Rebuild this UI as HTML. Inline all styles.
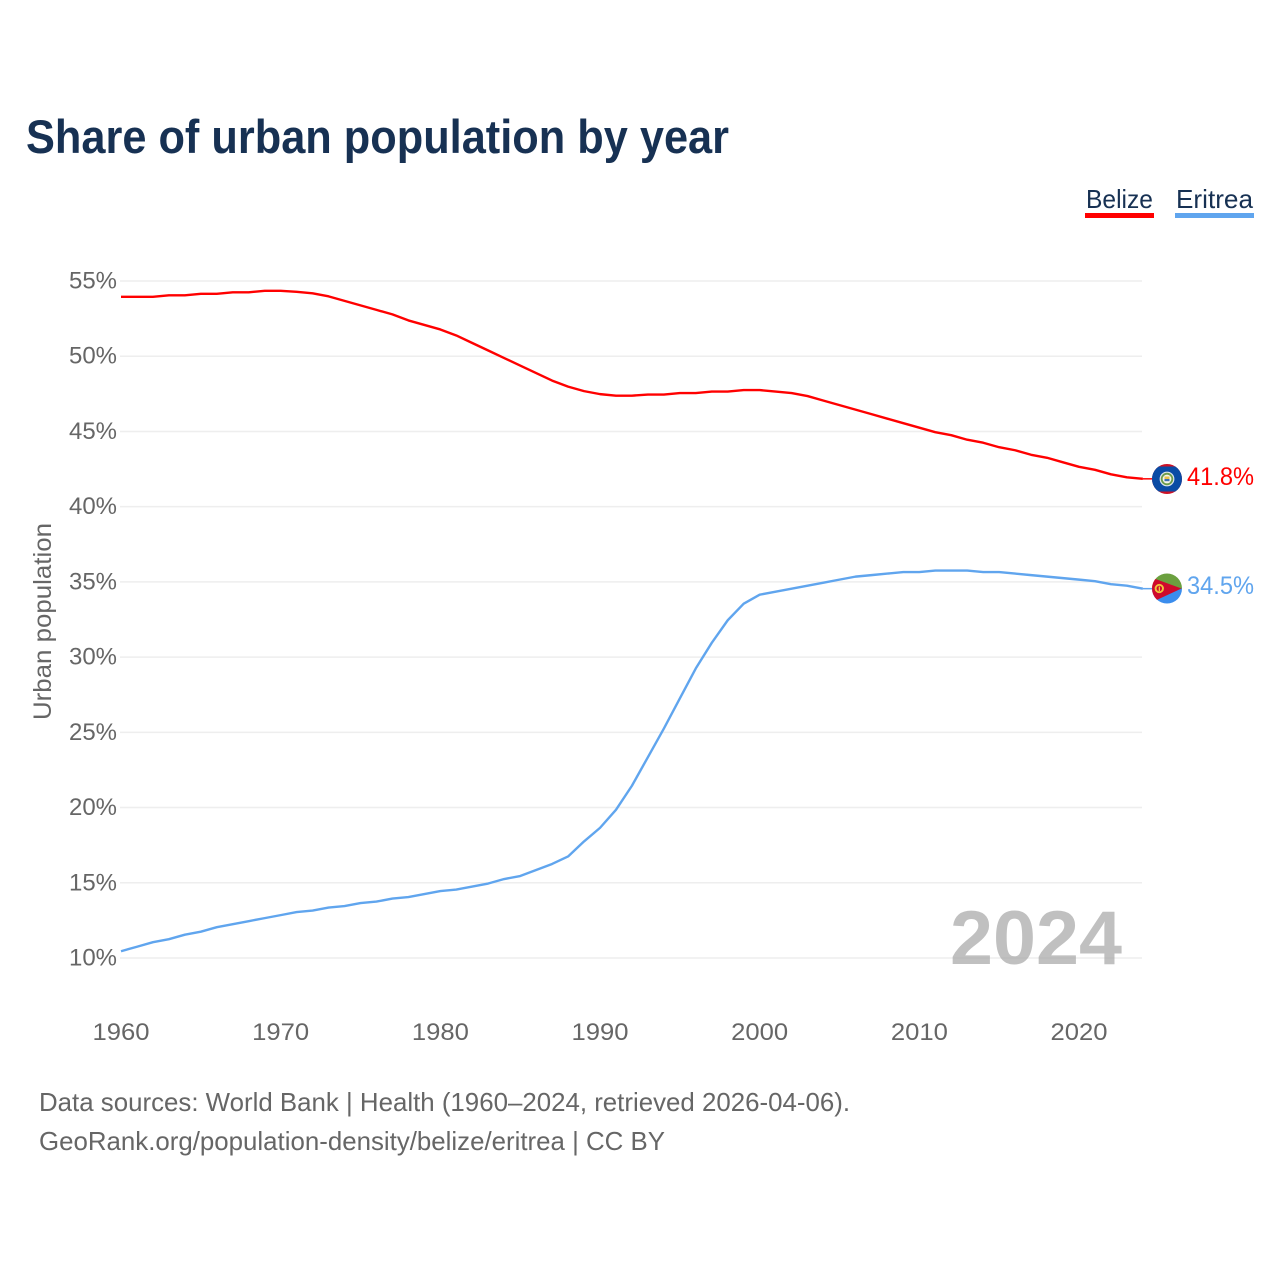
<!DOCTYPE html>
<html lang="en">
<head>
<meta charset="utf-8">
<title>Share of urban population by year</title>
<style>
html,body{margin:0;padding:0;background:#fff;}
svg{display:block;font-family:"Liberation Sans",sans-serif;}
</style>
</head>
<body>
<svg id="chart" xmlns="http://www.w3.org/2000/svg" width="1280" height="1280" viewBox="0 0 1280 1280">
  <rect x="0" y="0" width="1280" height="1280" fill="#ffffff"/>
  <text x="26" y="153" font-size="47" font-weight="700" fill="#173153" textLength="703" lengthAdjust="spacingAndGlyphs">Share of urban population by year</text>

  <g>
    <g>
      <text x="1086" y="208" font-size="26" fill="#173153" textLength="67" lengthAdjust="spacingAndGlyphs">Belize</text>
      <rect x="1085" y="213" width="69" height="5" fill="#ff0000"/>
    </g>
    <g>
      <text x="1176" y="208" font-size="26" fill="#173153" textLength="77" lengthAdjust="spacingAndGlyphs">Eritrea</text>
      <rect x="1175" y="213" width="79" height="5" fill="#60a5ee"/>
    </g>
  </g>

  <g id="grid"></g>
  <g id="yticks"></g>
  <g id="xticks"></g>
  <text transform="translate(51,720) rotate(-90)" x="0" y="0" font-size="25" fill="#666666" textLength="197" lengthAdjust="spacingAndGlyphs">Urban population</text>

  <g id="series"></g>

  <text x="950" y="964" font-size="76" font-weight="700" fill="#999999" fill-opacity="0.62" textLength="172" lengthAdjust="spacingAndGlyphs">2024</text>

  <defs>
    <clipPath id="clip-belize"><circle cx="1167" cy="479" r="15"/></clipPath>
    <clipPath id="clip-eritrea"><circle cx="1167" cy="588.5" r="15"/></clipPath>
  </defs>

  <g clip-path="url(#clip-belize)">
    <rect x="1150" y="462" width="34" height="34" fill="#ce1126"/>
    <rect x="1150" y="466.5" width="34" height="25" fill="#0a4ba5"/>
    <circle cx="1167" cy="479" r="7.4" fill="#dfe6ea"/>
    <circle cx="1167" cy="479" r="6.2" fill="#6b9b4a"/>
    <circle cx="1167" cy="479" r="4.4" fill="#f4f4ea"/>
    <rect x="1164.5" y="476.5" width="5" height="2.5" fill="#e8c04a"/>
    <rect x="1164.5" y="479" width="5" height="2.2" fill="#3a6fb0"/>
  </g>

  <g clip-path="url(#clip-eritrea)">
    <rect x="1150" y="570" width="34" height="19" fill="#6ba03f"/>
    <rect x="1150" y="588.5" width="34" height="19" fill="#3b8ded"/>
    <polygon points="1150,577 1181.5,588.5 1150,603" fill="#cf0a2c"/>
    <circle cx="1159.3" cy="588.5" r="3.7" fill="none" stroke="#f0c33c" stroke-width="1.9"/>
    <rect x="1158.7" y="586.5" width="1.3" height="4.5" fill="#f0c33c"/>
  </g>

  <text id="label-belize" x="1187" y="485" font-size="25" fill="#ff0000" textLength="67" lengthAdjust="spacingAndGlyphs">41.8%</text>
  <text id="label-eritrea" x="1187" y="594" font-size="25" fill="#60a5ee" textLength="67" lengthAdjust="spacingAndGlyphs">34.5%</text>

  <text x="39" y="1111" font-size="26" fill="#666666" textLength="811" lengthAdjust="spacingAndGlyphs">Data sources: World Bank | Health (1960–2024, retrieved 2026-04-06).</text>
  <text x="39" y="1150" font-size="26" fill="#666666" textLength="626" lengthAdjust="spacingAndGlyphs">GeoRank.org/population-density/belize/eritrea | CC BY</text>
</svg>
<script>
const startYear = 1960;
const yTickValues = [10, 15, 20, 25, 30, 35, 40, 45, 50, 55];
const yTickLabels = ["10%", "15%", "20%", "25%", "30%", "35%", "40%", "45%", "50%", "55%"];
const xTickValues = [1960, 1970, 1980, 1990, 2000, 2010, 2020];
const xTickLabels = ["1960", "1970", "1980", "1990", "2000", "2010", "2020"];
const belizeValues = [53.95,53.95,53.95,54.05,54.05,54.15,54.15,54.25,54.25,54.35,54.35,54.28,54.18,53.98,53.68,53.38,53.08,52.78,52.38,52.08,51.78,51.38,50.88,50.38,49.88,49.38,48.88,48.38,47.98,47.68,47.48,47.38,47.38,47.45,47.45,47.55,47.55,47.65,47.65,47.75,47.75,47.65,47.55,47.35,47.05,46.75,46.45,46.15,45.85,45.55,45.25,44.95,44.75,44.45,44.25,43.95,43.75,43.45,43.25,42.95,42.65,42.45,42.15,41.95,41.85];
const eritreaValues = [10.45,10.75,11.05,11.25,11.55,11.75,12.05,12.25,12.45,12.65,12.85,13.05,13.15,13.35,13.45,13.65,13.75,13.95,14.05,14.25,14.45,14.55,14.75,14.95,15.25,15.45,15.85,16.25,16.75,17.75,18.65,19.85,21.45,23.35,25.25,27.25,29.25,30.95,32.45,33.55,34.15,34.35,34.55,34.75,34.95,35.15,35.35,35.45,35.55,35.65,35.65,35.75,35.75,35.75,35.65,35.65,35.55,35.45,35.35,35.25,35.15,35.05,34.85,34.75,34.55];

const NS = "http://www.w3.org/2000/svg";
function xScale(year) { return 121 + (year - 1960) * (1079 - 121) / 60; }
function yScale(value) { return 958 - (value - 10) * (958 - 281) / 45; }

const gridGroup = document.getElementById("grid");
const yTickGroup = document.getElementById("yticks");
yTickValues.forEach(function (value, i) {
  const line = document.createElementNS(NS, "line");
  
  
  line.setAttribute("x1", 120);
  line.setAttribute("x2", 1142);
  line.setAttribute("y1", yScale(value));
  line.setAttribute("y2", yScale(value));
  line.setAttribute("stroke", "#eeeeee");
  line.setAttribute("stroke-width", 1.5);
  gridGroup.appendChild(line);

  const label = document.createElementNS(NS, "text");
  
  
  label.setAttribute("x", 69);
  label.setAttribute("y", yScale(value) + 7.5);
  label.setAttribute("font-size", 24);
  label.setAttribute("fill", "#666666");
  label.setAttribute("textLength", 48);
  label.setAttribute("lengthAdjust", "spacingAndGlyphs");
  label.textContent = yTickLabels[i];
  yTickGroup.appendChild(label);
});

const xTickGroup = document.getElementById("xticks");
xTickValues.forEach(function (year, i) {
  const label = document.createElementNS(NS, "text");
  
  
  label.setAttribute("x", xScale(year) - 28.5);
  label.setAttribute("y", 1040);
  label.setAttribute("font-size", 24);
  label.setAttribute("fill", "#666666");
  label.setAttribute("textLength", 57);
  label.setAttribute("lengthAdjust", "spacingAndGlyphs");
  label.textContent = xTickLabels[i];
  xTickGroup.appendChild(label);
});

function buildPoints(values) {
  return values.map(function (value, i) {
    return xScale(startYear + i).toFixed(2) + "," + yScale(value).toFixed(2);
  }).join(" ");
}

const seriesGroup = document.getElementById("series");

const belizeLine = document.createElementNS(NS, "polyline");


belizeLine.setAttribute("points", buildPoints(belizeValues));
belizeLine.setAttribute("fill", "none");
belizeLine.setAttribute("stroke", "#ff0000");
belizeLine.setAttribute("stroke-width", 2.4);
belizeLine.setAttribute("stroke-linejoin", "round");
seriesGroup.appendChild(belizeLine);

const eritreaLine = document.createElementNS(NS, "polyline");


eritreaLine.setAttribute("points", buildPoints(eritreaValues));
eritreaLine.setAttribute("fill", "none");
eritreaLine.setAttribute("stroke", "#60a5ee");
eritreaLine.setAttribute("stroke-width", 2.4);
eritreaLine.setAttribute("stroke-linejoin", "round");
seriesGroup.appendChild(eritreaLine);

const belizeStub = document.createElementNS(NS, "line");


belizeStub.setAttribute("x1", xScale(2024));
belizeStub.setAttribute("x2", 1152);
belizeStub.setAttribute("y1", yScale(belizeValues[belizeValues.length - 1]));
belizeStub.setAttribute("y2", yScale(belizeValues[belizeValues.length - 1]));
belizeStub.setAttribute("stroke", "#ff0000");
belizeStub.setAttribute("stroke-width", 1.5);
seriesGroup.appendChild(belizeStub);

const eritreaStub = document.createElementNS(NS, "line");


eritreaStub.setAttribute("x1", xScale(2024));
eritreaStub.setAttribute("x2", 1152);
eritreaStub.setAttribute("y1", yScale(eritreaValues[eritreaValues.length - 1]));
eritreaStub.setAttribute("y2", yScale(eritreaValues[eritreaValues.length - 1]));
eritreaStub.setAttribute("stroke", "#60a5ee");
eritreaStub.setAttribute("stroke-width", 1.5);
seriesGroup.appendChild(eritreaStub);
</script>
</body>
</html>
